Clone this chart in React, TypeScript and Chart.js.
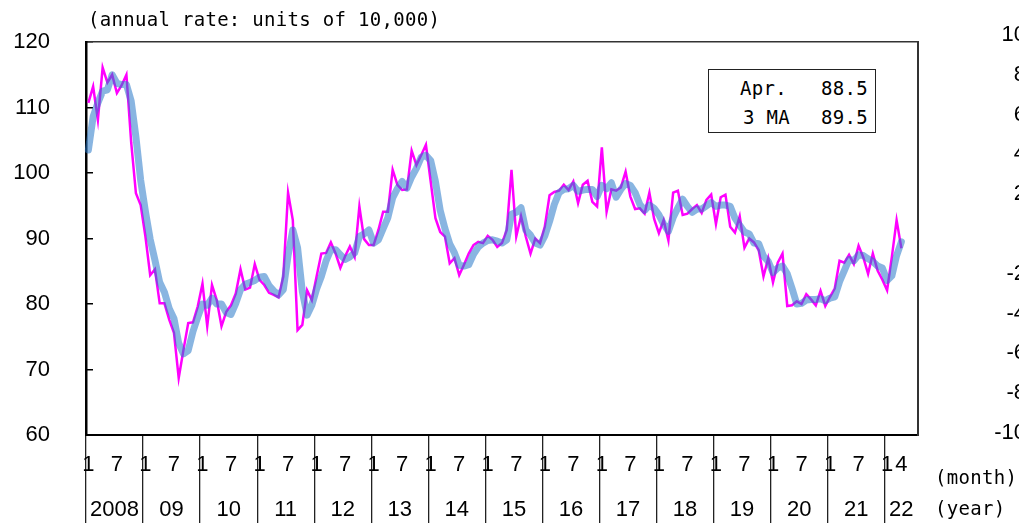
import React, { useEffect, useRef } from 'react';
import { Chart, registerables } from 'chart.js';

Chart.register(...registerables);

// ---- data ----
const years = ['2008', '09', '10', '11', '12', '13', '14', '15', '16', '17', '18', '19', '20', '21', '22'];
const axisMonthCount = 175; // Jan 2008 .. Jul 2022 (axis span)
const shownMonths = ['1', '7'];
const shownMonthsLastYear = ['1', '4'];
const categories: string[] = Array.from({ length: axisMonthCount }, (_, i) => `${2008 + Math.floor(i / 12)}-${(i % 12) + 1}`);

const yTicks = [60, 70, 80, 90, 100, 110, 120];
const rightTicks = [-10, -8, -6, -4, -2, 0, 2, 4, 6, 8, 10];

const monthly = [
  110.7, 113.2, 108.1, 116.1, 113.8, 115.0, 112.2, 113.4, 115.0, 104.7, 96.9, 95.1,
  90.3, 84.4, 85.3, 80.1, 80.1, 77.6, 75.6, 68.7, 73.0, 77.1, 77.2, 79.6,
  83.1, 76.6, 82.9, 80.6, 76.6, 78.8, 79.8, 81.6, 85.3, 82.2, 82.5, 86.1,
  83.7, 82.9, 81.7, 81.4, 81.0, 84.2, 97.0, 92.8, 76.0, 76.8, 82.1, 80.6,
  84.2, 87.7, 87.8, 89.4, 87.7, 85.5, 87.3, 88.8, 87.2, 94.9, 89.9, 89.0,
  89.0, 91.3, 94.1, 94.1, 100.5, 98.2, 97.4, 97.5, 103.4, 101.2, 102.7, 104.3,
  98.7, 93.1, 91.0, 90.3, 86.2, 87.0, 84.4, 86.0, 87.7, 89.0, 89.5, 89.3,
  90.4, 89.8, 88.7, 89.3, 91.3, 100.5, 90.3, 93.4, 90.3, 87.7, 90.0, 89.3,
  91.8, 96.6, 97.1, 97.3, 98.2, 97.4, 98.7, 95.4, 98.2, 98.8, 95.6, 94.9,
  103.9, 94.1, 97.5, 97.3, 97.8, 100.2, 96.4, 94.5, 94.6, 93.8, 97.0, 93.0,
  90.8, 92.8, 89.7, 97.0, 97.3, 93.6, 93.8, 94.5, 95.1, 93.9, 95.9, 96.7,
  92.2, 96.3, 96.7, 91.8, 90.9, 93.4, 88.6, 90.0, 89.4, 88.2, 84.2, 87.0,
  83.3, 86.3, 87.7, 79.7, 79.8, 80.4, 80.0, 81.5, 80.7, 79.8, 82.0, 79.7,
  81.1, 82.4, 86.6, 86.3, 87.5, 86.1, 88.9, 87.1, 84.6, 87.7, 85.1, 83.7,
  82.1, 87.2, 92.8, 88.5,
];

const ma3 = [
  103.5, 108.6, 110.7, 112.5, 112.7, 115.0, 113.7, 113.5, 113.5, 111.0, 105.5, 98.9,
  94.1, 89.9, 86.7, 83.3, 81.8, 79.3, 77.8, 74.0, 72.4, 72.9, 75.8, 78.0,
  80.0, 79.8, 80.9, 80.0, 80.0, 78.7, 78.4, 80.1, 82.2, 83.0, 83.3, 83.6,
  84.1, 84.2, 82.8, 82.0, 81.4, 82.2, 87.4, 91.3, 88.6, 81.9, 78.3, 79.8,
  82.3, 84.2, 86.6, 88.3, 88.3, 87.5, 86.8, 87.2, 87.8, 90.3, 90.7, 91.3,
  89.3, 89.8, 91.5, 93.2, 96.2, 97.6, 98.7, 97.7, 99.4, 100.7, 102.4, 102.7,
  101.9, 98.7, 94.3, 91.5, 89.2, 87.8, 85.9, 85.8, 86.0, 87.6, 88.7, 89.3,
  89.7, 89.8, 89.6, 89.3, 89.8, 93.7, 94.0, 94.7, 91.3, 90.5, 89.3, 89.0,
  90.4, 92.6, 95.2, 97.0, 97.5, 97.6, 98.1, 97.2, 97.4, 97.5, 97.5, 96.4,
  98.1, 97.6, 98.5, 96.3, 97.5, 98.4, 98.1, 97.0, 95.2, 94.3, 95.1, 94.6,
  93.6, 92.2, 91.1, 93.2, 94.7, 96.0, 94.9, 94.0, 94.5, 94.5, 95.0, 95.5,
  94.9, 95.1, 95.1, 94.9, 93.1, 92.0, 91.0, 90.7, 89.3, 89.2, 87.3, 86.5,
  84.8, 85.5, 85.8, 84.6, 82.4, 80.0, 80.1, 80.6, 80.7, 80.7, 80.8, 80.5,
  80.9, 81.1, 83.4, 85.1, 86.8, 86.6, 87.5, 87.4, 86.9, 86.5, 85.8, 85.5,
  83.6, 84.3, 87.4, 89.5,
];

const latestMonthLabel = 'Apr.';
const maLabel = '3 MA';
const unitTitle = '(annual rate: units of 10,000)';
const monthAxisTitle = '(month)';
const yearAxisTitle = '(year)';

const NUM_FONT = "'Liberation Sans', Arial, sans-serif";
const MONO_FONT = "'DejaVu Sans Mono', 'Liberation Mono', monospace";

function zeroPad(s: any) {
  s.paddingTop = 0;
  s.paddingBottom = 0;
  s.paddingLeft = 0;
  s.paddingRight = 0;
}

export default function App() {
  const ref = useRef<HTMLCanvasElement>(null);

  useEffect(() => {
    if (!ref.current) return;
    const lastYearIdx = years.length - 1;
    const chart = new Chart(ref.current, {
      type: 'line',
      data: {
        labels: categories,
        datasets: [
          {
            label: maLabel,
            data: ma3,
            borderColor: 'rgba(40,120,200,0.55)',
            borderWidth: 7,
            pointRadius: 0,
            tension: 0,
            borderJoinStyle: 'round',
            borderCapStyle: 'round',
            xAxisID: 'x',
            yAxisID: 'y',
          },
          {
            label: 'monthly',
            data: monthly,
            borderColor: '#ff00ff',
            borderWidth: 2.5,
            pointRadius: 0,
            tension: 0,
            xAxisID: 'x',
            yAxisID: 'y',
          },
        ],
      },
      options: {
        responsive: false,
        animation: false,
        events: [],
        layout: { padding: { top: 42, left: 0, right: 0, bottom: 0 } },
        plugins: {
          legend: { display: false },
          tooltip: { enabled: false },
          title: { display: false },
        },
        scales: {
          x: {
            type: 'category',
            position: 'bottom',
            weight: 0,
            offset: true,
            grid: {
              offset: true,
              drawOnChartArea: false,
              drawTicks: true,
              tickLength: 88,
              lineWidth: 1.3,
              color: (c: any) => (c.index % 12 === 0 && c.index < axisMonthCount ? '#222' : 'rgba(0,0,0,0)'),
            },
            border: { display: true, color: '#000', width: 2 },
            ticks: {
              autoSkip: false,
              maxRotation: 0,
              minRotation: 0,
              padding: -71,
              color: '#000',
              font: { family: NUM_FONT, size: 22 },
              callback: (_v: any, index: number) => {
                const m = String((index % 12) + 1);
                const yi = Math.floor(index / 12);
                const shown = yi === lastYearIdx ? shownMonthsLastYear : shownMonths;
                return shown.includes(m) ? m : '';
              },
            },
            afterFit: (s: any) => {
              s.height = 40;
              zeroPad(s);
            },
          },
          xYear: {
            type: 'linear',
            position: 'bottom',
            weight: 1,
            min: -0.5,
            max: axisMonthCount - 0.5,
            grid: { display: false, drawTicks: false, drawOnChartArea: false },
            border: { display: false },
            afterBuildTicks: (s: any) => {
              s.ticks = years.map((_, k) => ({
                value: k < lastYearIdx ? k * 12 + 5.5 : (k * 12 - 0.5 + axisMonthCount - 0.5) / 2,
              }));
            },
            ticks: {
              autoSkip: false,
              maxRotation: 0,
              minRotation: 0,
              padding: 22,
              color: '#000',
              font: { family: NUM_FONT, size: 22 },
              callback: (_v: any, index: number) => years[index],
            },
            afterFit: (s: any) => {
              s.height = 48;
              zeroPad(s);
            },
          },
          xTop: {
            type: 'linear',
            position: 'top',
            min: 0,
            max: 1,
            grid: { display: true, drawOnChartArea: false, drawTicks: false, color: 'rgba(0,0,0,0)' },
            border: { display: true, color: '#333', width: 1.5 },
            ticks: { display: false },
            afterFit: (s: any) => {
              s.height = 0;
              zeroPad(s);
            },
          },
          y: {
            type: 'linear',
            position: 'left',
            min: 60,
            max: 120,
            afterBuildTicks: (s: any) => {
              s.ticks = yTicks.map((v) => ({ value: v }));
            },
            grid: {
              drawOnChartArea: false,
              drawTicks: true,
              tickLength: -7,
              color: '#000',
              lineWidth: 1.5,
            },
            border: { display: true, color: '#000', width: 2.5 },
            ticks: {
              autoSkip: false,
              padding: 43,
              color: '#000',
              font: { family: NUM_FONT, size: 22 },
            },
            afterFit: (s: any) => {
              s.width = 86;
              zeroPad(s);
            },
          },
          y2: {
            type: 'linear',
            position: 'right',
            min: -10.1,
            max: 9.65,
            afterBuildTicks: (s: any) => {
              s.ticks = rightTicks.map((v) => ({ value: v }));
            },
            grid: { display: true, drawOnChartArea: false, drawTicks: false, color: 'rgba(0,0,0,0)' },
            border: { display: true, color: '#333', width: 2 },
            ticks: {
              autoSkip: false,
              mirror: true,
              crossAlign: 'near',
              padding: 108,
              color: '#000',
              font: { family: NUM_FONT, size: 22 },
              callback: (v: any) => (v === 0 ? '' : String(v)),
            },
            afterFit: (s: any) => {
              s.width = 101;
              zeroPad(s);
            },
          },
        },
      } as any,
    });
    return () => chart.destroy();
  }, []);

  const mono: React.CSSProperties = {
    position: 'absolute',
    fontFamily: MONO_FONT,
    fontSize: 19,
    lineHeight: '22px',
    letterSpacing: '0.3px',
    color: '#000',
    whiteSpace: 'pre',
  };

  return (
    <div style={{ position: 'absolute', left: 0, top: 0, width: 1019, height: 523, overflow: 'hidden', background: '#fff' }}>
      <canvas ref={ref} width={1019} height={523} style={{ display: 'block', width: 1019, height: 523 }} />
      <div style={{ ...mono, left: 88, top: 8 }}>{unitTitle}</div>
      <div style={{ ...mono, left: 935, top: 466 }}>{monthAxisTitle}</div>
      <div style={{ ...mono, left: 935, top: 497 }}>{yearAxisTitle}</div>
      <div
        style={{
          position: 'absolute',
          left: 708,
          top: 69,
          width: 168,
          height: 64,
          border: '1.5px solid #222',
          boxSizing: 'border-box',
          background: '#fff',
        }}
      />
      <div style={{ ...mono, left: 740, top: 77 }}>{latestMonthLabel}</div>
      <div style={{ ...mono, left: 800, top: 77, width: 68, textAlign: 'right' }}>{monthly[monthly.length - 1].toFixed(1)}</div>
      <div style={{ ...mono, left: 743, top: 106 }}>{maLabel}</div>
      <div style={{ ...mono, left: 800, top: 106, width: 68, textAlign: 'right' }}>{ma3[ma3.length - 1].toFixed(1)}</div>
    </div>
  );
}
